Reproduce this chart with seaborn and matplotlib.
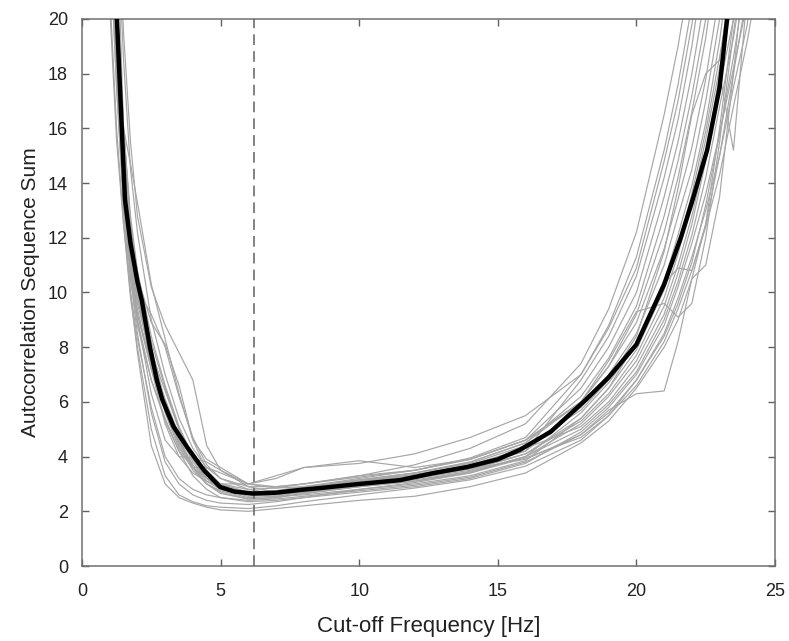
import matplotlib
matplotlib.use("Agg")
import matplotlib.pyplot as plt
import seaborn as sns
import pandas as pd

# common frequency grid for the individual trials
freq = [1.0, 1.25, 1.5, 1.75, 2.0, 2.5, 3.0, 3.5, 4.0, 4.5, 5.0, 6.0, 7.0, 8.0,
        10.0, 12.0, 14.0, 16.0, 18.0, 19.0, 20.0, 21.0, 21.5, 22.0, 22.5,
        23.0, 23.5, 24.0, 25.0]

trials = {
    "t01": [23, 17.5, 13, 10, 7.8, 4.4, 3.0, 2.5, 2.3, 2.15, 2.05, 2.0, 2.1, 2.2, 2.4, 2.55, 2.9, 3.4, 4.5, 5.3, 6.5, 8.0, 9.0, 10.5, 12.5, 15, 18, 21, 30],
    "t02": [30, 24, 16, 14.7, 13.3, 10.3, 8.3, 6.3, 4.6, 3.9, 3.6, 3.0, 2.9, 3.0, 3.3, 3.5, 3.9, 4.6, 6.5, 8.0, 10.0, 13.5, 15.5, 18, 21, 25, 30, 30, 30],
    "t03": [26, 20, 15, 12, 10, 7.2, 5.2, 4.0, 3.4, 3.1, 2.9, 2.7, 2.7, 2.8, 3.05, 3.3, 3.6, 4.2, 5.8, 7.0, 8.5, 11, 12.8, 14.5, 17, 20, 24, 30, 30],
    "t04": [25, 19, 14, 11, 9.0, 6.3, 4.6, 4.0, 3.95, 3.8, 3.5, 3.0, 2.85, 2.9, 3.15, 3.4, 3.8, 4.5, 6.2, 7.6, 9.5, 12.8, 14.8, 17.2, 20, 24, 30, 30, 30],
    "t05": [24, 18, 13.5, 10.5, 8.5, 5.6, 3.8, 3.0, 2.6, 2.4, 2.3, 2.25, 2.35, 2.5, 2.8, 3.05, 3.4, 4.0, 5.0, 5.9, 7.1, 9.0, 10.4, 12.1, 14.2, 16.8, 19.3, 22.5, 30],
    "t06": [26, 20, 15.5, 12.3, 10.4, 8.2, 6.5, 5.0, 3.9, 3.2, 2.8, 2.55, 2.6, 2.7, 2.95, 3.2, 3.55, 4.1, 5.3, 6.3, 7.7, 9.8, 11.4, 13.3, 15.6, 18.2, 20.8, 25, 30],
    "t07": [27, 21, 16, 12.5, 10.6, 8.9, 8.1, 6.6, 4.6, 3.5, 3.0, 2.7, 2.75, 2.9, 3.1, 3.3, 3.55, 3.9, 4.8, 5.7, 6.3, 6.4, 8.2, 10.5, 11.0, 13.5, 18, 23, 30],
    "t08": [25, 19, 14.5, 11.5, 10.1, 9.2, 8.0, 6.2, 4.7, 3.7, 3.2, 2.8, 2.65, 2.7, 2.9, 3.1, 3.45, 4.0, 5.6, 6.7, 8.1, 10.4, 12.1, 13.9, 16.2, 19.2, 23, 30, 30],
    "t09": [30, 25, 19.5, 15.5, 12.8, 10.2, 8.8, 7.8, 6.8, 4.4, 3.5, 2.9, 2.7, 2.8, 3.0, 3.25, 3.6, 4.2, 6.8, 8.4, 10.6, 14.2, 16.3, 19, 22.5, 27, 30, 30, 30],
    "t10": [25, 19, 14, 11, 9.2, 7.4, 6.0, 4.5, 3.6, 3.2, 3.0, 3.0, 3.3, 3.6, 3.75, 4.1, 4.7, 5.5, 7.0, 8.7, 10.9, 14.8, 17, 19.8, 23, 27, 30, 30, 30],
    "t11": [24, 18, 13.5, 10.8, 9.0, 6.8, 5.3, 4.2, 3.6, 3.6, 3.4, 3.0, 3.2, 3.6, 3.85, 3.6, 3.9, 4.6, 6.0, 7.3, 8.9, 11.6, 13.4, 15.3, 17.8, 21, 25, 30, 30],
    "t12": [21, 16, 12.5, 10, 8.3, 5.8, 4.0, 3.2, 2.8, 2.6, 2.5, 2.4, 2.45, 2.55, 2.75, 2.95, 3.25, 3.8, 4.8, 5.6, 6.8, 8.5, 9.8, 11.3, 13, 15, 17.5, 19.8, 30],
    "t13": [26, 20, 15, 12, 10.2, 7.6, 5.6, 4.3, 3.6, 3.2, 3.0, 2.8, 2.85, 3.0, 3.3, 3.7, 4.3, 5.2, 7.4, 9.4, 12.2, 16.5, 19, 22, 26, 30, 30, 30, 30],
    "t14": [25, 19.5, 14.8, 11.8, 9.8, 7.6, 6.0, 4.6, 3.6, 3.0, 2.65, 2.45, 2.5, 2.65, 2.9, 3.15, 3.45, 4.0, 5.2, 6.2, 7.5, 9.5, 11, 12.8, 15, 17.5, 20, 24, 30],
    "t15": [27, 21, 16, 12.6, 10.7, 8.0, 6.0, 4.6, 3.7, 3.2, 2.9, 2.65, 2.7, 2.85, 3.1, 3.4, 3.8, 4.5, 6.0, 7.5, 9.3, 9.6, 9.1, 9.6, 12, 15.5, 19.5, 23, 30],
    "t16": [24, 18.5, 14, 11.2, 9.4, 7.2, 5.7, 4.4, 3.5, 3.0, 2.75, 2.5, 2.55, 2.7, 2.95, 3.2, 3.5, 4.1, 5.4, 6.5, 8.2, 10.3, 10.9, 10.8, 12.5, 16, 20, 24, 30],
    "t17": [25, 19, 14.3, 11.4, 9.6, 7.6, 6.1, 4.8, 3.8, 3.2, 2.9, 2.65, 2.7, 2.85, 3.1, 3.35, 3.7, 4.3, 5.1, 6.0, 7.3, 9.2, 10.7, 12.5, 14.8, 18, 15.2, 21, 30],
    "t18": [26, 20, 15.2, 12.1, 10.2, 7.4, 6.0, 4.7, 3.6, 3.1, 2.8, 2.65, 2.7, 2.85, 3.15, 3.4, 3.75, 4.4, 5.7, 6.8, 8.4, 11.5, 13.8, 16.5, 18, 18.5, 22, 26, 30],
    "t19": [23, 17.5, 13.2, 10.5, 8.8, 6.8, 5.4, 4.2, 3.3, 2.8, 2.5, 2.35, 2.4, 2.5, 2.7, 2.9, 3.2, 3.75, 4.9, 5.8, 7.0, 8.8, 10.2, 11.8, 13.6, 15.8, 18.2, 20.6, 30],
    "t20": [27, 21, 16, 12.8, 10.8, 8.4, 6.6, 5.1, 4.0, 3.3, 2.95, 2.7, 2.75, 2.9, 3.2, 3.5, 3.95, 4.7, 7.0, 8.8, 11.3, 15.2, 17.6, 20.5, 24, 28, 30, 30, 30],
    "t21": [24, 18, 13.8, 11, 9.2, 7.2, 5.8, 4.5, 3.6, 3.0, 2.7, 2.45, 2.5, 2.65, 2.9, 3.1, 3.4, 3.95, 4.7, 5.5, 6.6, 8.2, 9.4, 10.8, 12.4, 14.3, 16.8, 19.2, 25],
    "t22": [30, 24, 18.5, 14.5, 12.2, 9.0, 7.0, 5.4, 4.3, 3.6, 3.2, 2.9, 2.9, 3.0, 3.25, 3.5, 3.9, 4.6, 6.0, 7.3, 9.2, 12.2, 14.2, 16.6, 19.3, 23, 28, 30, 30],
    "t23": [20.5, 15.5, 12.5, 9.8, 8.0, 5.0, 3.3, 2.6, 2.35, 2.2, 2.15, 2.1, 2.2, 2.35, 2.6, 2.85, 3.15, 3.65, 4.6, 5.5, 6.8, 8.4, 9.6, 11.1, 13.2, 15.8, 18.6, 21.8, 30],
    "t24": [25, 19, 14.5, 11.6, 9.8, 7.8, 6.4, 5.0, 3.9, 3.3, 2.95, 2.6, 2.55, 2.6, 2.8, 3.0, 3.3, 3.85, 5.4, 6.5, 7.9, 10.1, 11.7, 13.6, 15.9, 18.6, 21.5, 26, 30],
}

# mean curve
mean_freq = [1.0, 1.26, 1.55, 1.75, 2.0, 2.16, 2.45, 2.7, 2.89, 3.3, 3.79, 4.4,
             4.98, 5.5, 6.17, 7.0, 7.86, 8.59, 10.0, 11.47, 12.7, 13.9, 15.0,
             15.8, 16.9, 18.2, 19.0, 20.0, 21.0, 21.6, 22.0, 22.55, 23.0, 23.27, 23.5]
mean_sum = [26, 20, 13.4, 11.8, 10.4, 9.7, 8.0, 6.8, 6.1, 5.1, 4.35, 3.5,
            2.89, 2.72, 2.65, 2.68, 2.78, 2.85, 3.0, 3.14, 3.4, 3.62, 3.9,
            4.25, 4.9, 6.1, 6.9, 8.1, 10.3, 12.0, 13.3, 15.2, 17.5, 20, 22]

optimal_cutoff = 6.2

x_ticks = [0, 5, 10, 15, 20, 25]
y_ticks = [0, 2, 4, 6, 8, 10, 12, 14, 16, 18, 20]

rows = []
for name, vals in trials.items():
    for f, v in zip(freq, vals):
        rows.append({"trial": name, "freq": f, "value": v})
df = pd.DataFrame(rows)
mdf = pd.DataFrame({"freq": mean_freq, "value": mean_sum})

sns.set_theme(style="white")
plt.rcParams["font.family"] = ["Liberation Sans", "DejaVu Sans"]

fig = plt.figure(figsize=(7.89, 6.41), dpi=100)
ax = fig.add_axes([0.1039, 0.117, 0.8784, 0.8534])

sns.lineplot(data=df, x="freq", y="value", units="trial", estimator=None,
             color="#a6a6a6", linewidth=0.85, ax=ax, legend=False)
ax.axvline(optimal_cutoff, color="#606060", linestyle=(0, (7, 4)), linewidth=1.1, zorder=3)
sns.lineplot(data=mdf, x="freq", y="value", color="black", linewidth=3.2, ax=ax,
             legend=False, zorder=4)

ax.set_xlim(0, 25)
ax.set_ylim(0, 20)
ax.set_xticks(x_ticks)
ax.set_yticks(y_ticks)
ax.tick_params(direction="in", length=5, width=1, color="#606060",
               labelsize=13, labelcolor="#222222", pad=10,
               top=True, right=True, bottom=True, left=True)
ax.tick_params(axis="x", pad=12)
for s in ax.spines.values():
    s.set_color("#707070")
    s.set_linewidth(1.1)
    s.set_visible(True)
ax.set_xlabel("Cut-off Frequency [Hz]", fontsize=16, color="#222222", labelpad=12)
ax.set_ylabel("Autocorrelation Sequence Sum", fontsize=15, color="#222222", labelpad=6)

fig.savefig("out.png", dpi=100)
